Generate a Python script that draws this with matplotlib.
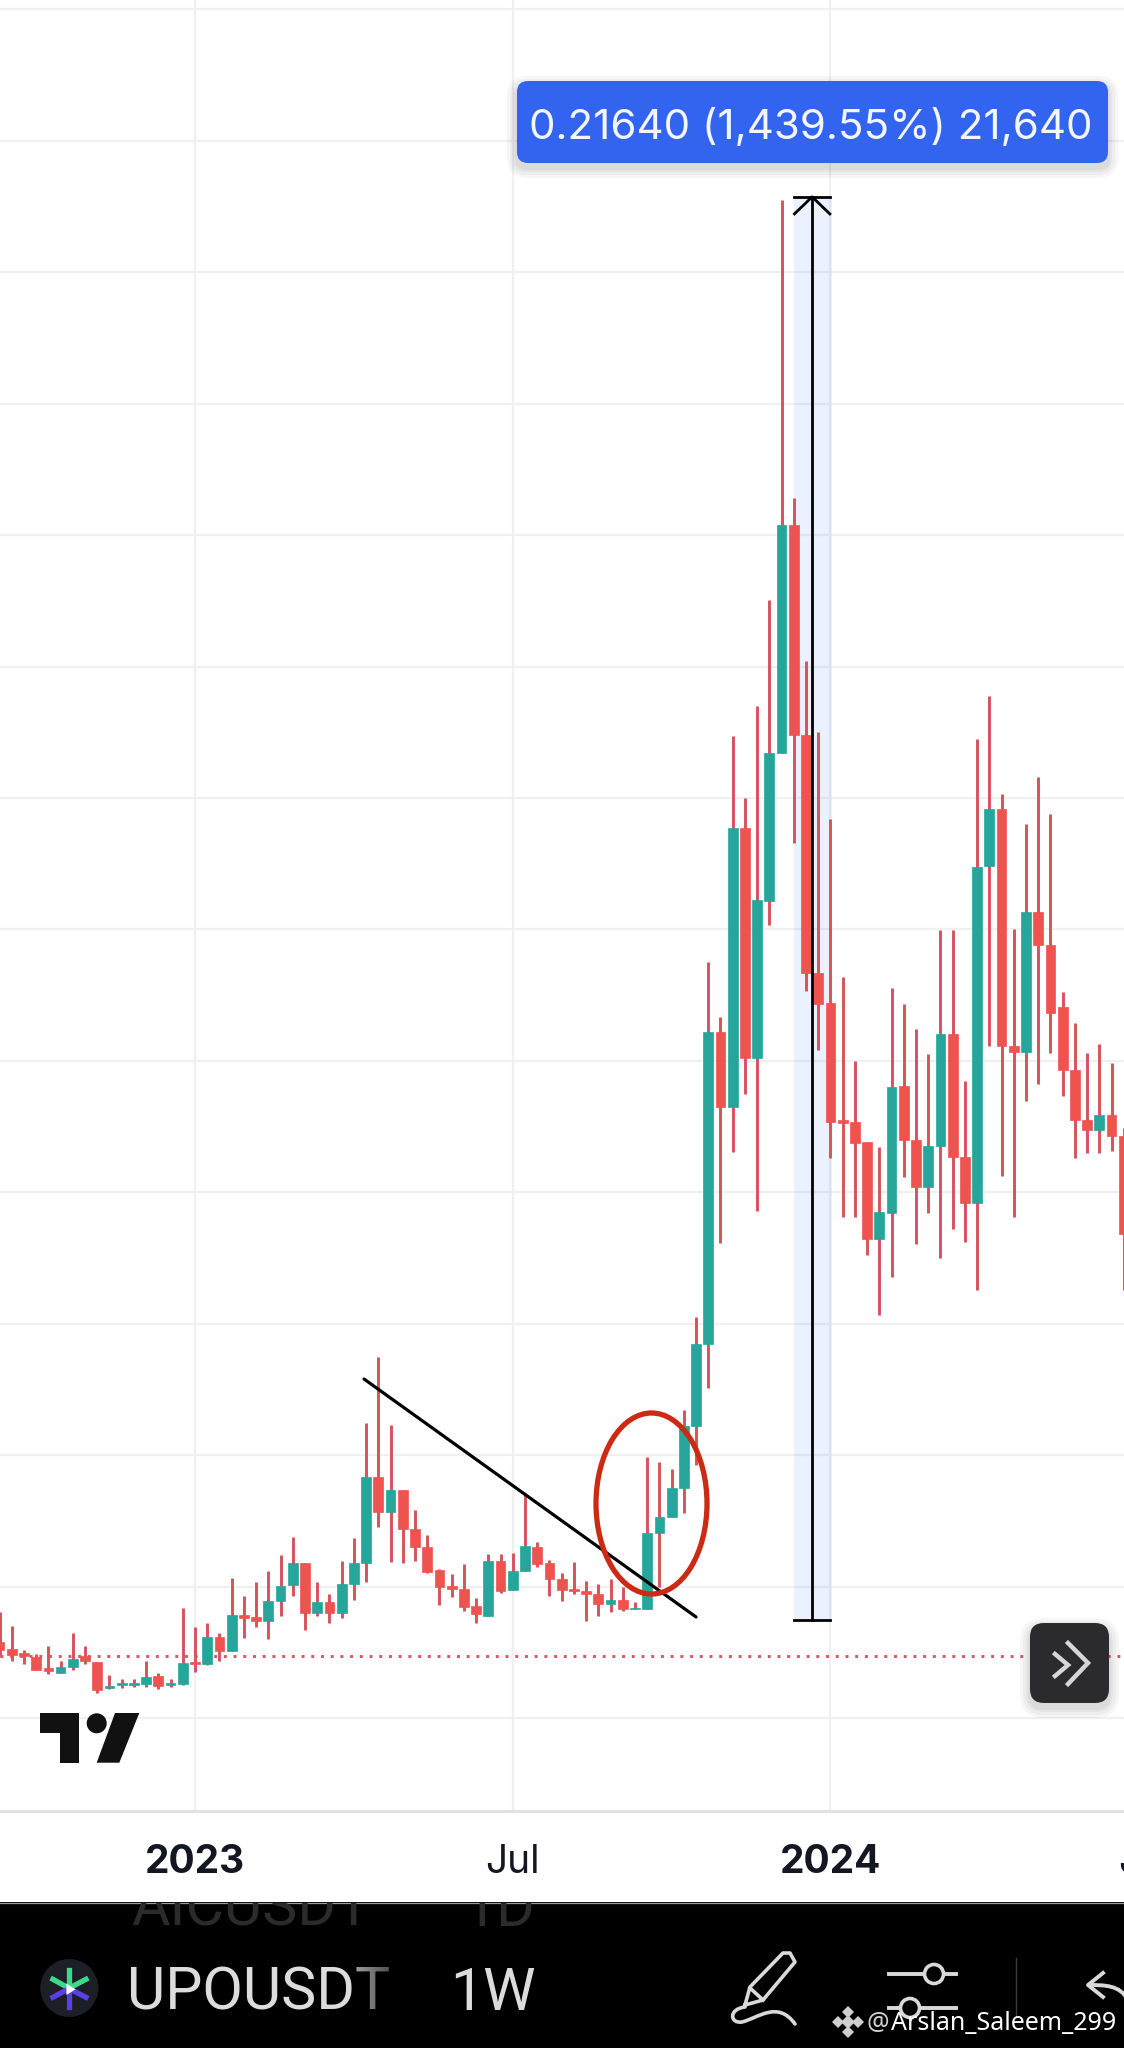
import numpy as np
import matplotlib
matplotlib.use('Agg')
import matplotlib.pyplot as plt
from matplotlib.patches import FancyBboxPatch, Ellipse, Circle, Polygon, Rectangle, PathPatch
from matplotlib.path import Path

# weekly candles, week number counted from the first week of 2023
weeks = list(range(-16, 77))

opens = [.01168, .01052, .01001, .00940, .00764, .00697, .00788, .00951, .00864, .00459, .00510, .00510,
         .00520, .00646, .00505, .00525, .00864, .00824, .01235, .01027, .01574, .01548, .01487, .01792,
         .02026, .02370, .01600, .01776, .01600, .02041, .02360, .03678, .03145, .03475, .02882, .02613,
         .02259, .02015, .01974, .01711, .01564, .02400, .01954, .02243, .02613, .02360, .02126, .01974,
         .01944, .01889, .01737, .01807, .01661, .01670, .02817, .03069, .03506, .04449, .05696, .10441,
         .09300, .13544, .10046, .12433, .14684, .18152, .14958, .11338, .10882, .09103, .09072, .08768,
         .07293, .07688, .09620, .08798, .08084, .08707, .10411, .08540, .07840, .12966, .13832, .10228,
         .10137, .12266, .11764, .10821, .09863, .09103, .08950, .09179, .08859]
highs = [.01624, .01407, .01042, .00976, .01103, .00879, .01305, .01103, .00864, .00662, .00596, .00596,
         .00879, .00697, .00596, .01676, .01387, .01457, .01296, .02141, .01863, .02081, .02248, .02482,
         .02756, .02370, .02081, .01894, .02400, .02741, .04499, .05494, .04468, .03475, .03171, .02786,
         .02274, .02198, .02350, .01828, .02502, .02502, .02522, .03434, .02689, .02411, .02208, .02380,
         .02096, .02046, .02117, .01995, .01767, .03982, .03897, .03799, .04687, .06106, .11506, .10669,
         .14943, .14000, .15399, .17011, .23095, .18563, .16084, .15004, .13680, .11277, .10000, .08768,
         .08692, .11110, .10867, .10487, .10106, .11992, .11992, .09696, .14897, .15551, .14061, .12007,
         .13604, .14319, .13757, .11049, .10578, .10122, .10259, .09969, .08981]
lows = [.00940, .00875, .00829, .00738, .00677, .00687, .00738, .00829, .00392, .00444, .00459, .00475,
        .00484, .00444, .00475, .00510, .00712, .00814, .00879, .01027, .01229, .01387, .01214, .01564,
        .01868, .01346, .01564, .01448, .01533, .01802, .02071, .02917, .02380, .02360, .02391, .02208,
        .01726, .01843, .01635, .01448, .01564, .01913, .01954, .02243, .02300, .01863, .01792, .01889,
        .01483, .01564, .01615, .01635, .01661, .01670, .02005, .03069, .03130, .03855, .05027, .07232,
        .08616, .09498, .07719, .12068, .14684, .13315, .11065, .10167, .08525, .07627, .07627, .07049,
        .06137, .06715, .08236, .07217, .07688, .07004, .07445, .07247, .06517, .10228, .08251, .07627,
        .09392, .09650, .10122, .09468, .08525, .08601, .08601, .08631, .06517]
closes = [.01042, .00961, .00951, .00738, .00727, .00779, .00900, .00879, .00433, .00499, .00545, .00545,
          .00627, .00494, .00545, .00849, .00829, .01235, .01027, .01574, .01533, .01487, .01792, .02015,
          .02370, .01600, .01776, .01600, .02046, .02370, .03678, .03145, .03475, .02882, .02613, .02233,
          .02005, .01974, .01700, .01585, .02400, .01944, .02248, .02624, .02350, .02117, .01954, .01944,
          .01889, .01737, .01807, .01661, .01685, .02826, .03069, .03506, .04449, .05696, .10441, .09300,
          .13544, .10046, .12449, .14684, .18152, .14958, .11338, .10867, .09072, .09057, .08753, .07293,
          .07703, .09605, .08798, .08084, .08707, .10411, .08540, .07840, .12950, .13832, .10228, .10137,
          .12266, .11764, .10730, .09863, .09103, .08950, .09179, .08859, .07369]

grid_prices = [0.00, 0.02, 0.04, 0.06, 0.08, 0.10, 0.12, 0.14, 0.16, 0.18, 0.20, 0.22, 0.24, 0.26]
grid_weeks = [0, 26, 52]
tick_weeks = [0, 26, 52, 77.8]
tick_labels = ['2023', 'Jul', '2024', 'Jul']
tick_weights = ['bold', 'normal', 'bold', 'normal']

last_price = 0.00951
trend_x = [13.83, 41.0]
trend_y = [0.05163, 0.01544]

# price range tool
range_weeks = [49, 52]
range_prices = [0.015032, 0.231432]
range_label = '0.21640 (1,439.55%) 21,640'

GREEN = '#26a69a'
RED = '#ef5350'
WICK = '#d6525c'
W, H = 1124, 2048
CHART_BOTTOM = 1811

fig = plt.figure(figsize=(W / 100, H / 100), dpi=100, facecolor='white')

# main chart, limits worked out from the gridlines of the picture
ax = fig.add_axes([0, 1 - CHART_BOTTOM / H, 1, CHART_BOTTOM / H])
ax.set_xlim(-15.96, 76.02)
ax.set_ylim(-0.01407, 0.26137)
for s in ax.spines.values():
    s.set_visible(False)
ax.spines['bottom'].set_visible(True)
ax.spines['bottom'].set_color('#e2e2e4')
ax.spines['bottom'].set_linewidth(2.2)

ax.set_yticks(grid_prices)
ax.set_xticks(grid_weeks)
ax.tick_params(length=0, labelleft=False, labelbottom=False)
ax.grid(True, color='#f0f0f3', linewidth=1.6, zorder=0)
ax.set_axisbelow(True)

# ruler background, its blue edge runs a little past the last bar
ax.add_patch(Rectangle((range_weeks[0], range_prices[0]), range_weeks[1] - range_weeks[0] + 0.15,
                       range_prices[1] - range_prices[0], facecolor='#2962ff', alpha=0.085,
                       edgecolor='none', zorder=1))

ax.axhline(last_price, color='#dd5560', linewidth=2.1, linestyle=(0, (1, 2.33)), zorder=1.5)

# candles
weeks_arr = np.array(weeks)
o = np.array(opens)
c = np.array(closes)
colors = [GREEN if close >= op else RED for op, close in zip(o, c)]
ax.vlines(weeks_arr, lows, highs, color=WICK, linewidth=2.1, zorder=2)
ax.bar(weeks_arr, c - o, bottom=o, width=0.8, color=colors, edgecolor=colors, linewidth=0.5, zorder=3)

# drawings on top of the candles
ax.plot(trend_x, trend_y, color='black', linewidth=2.3, solid_capstyle='round', zorder=4)
mid = (range_weeks[0] + range_weeks[1]) / 2
ax.plot([mid, mid], range_prices, color='black', linewidth=2.0, zorder=4)
ax.plot(range_weeks, [range_prices[0]] * 2, color='black', linewidth=2.0, zorder=4)
ax.plot(range_weeks, [range_prices[1]] * 2, color='black', linewidth=2.0, zorder=4)
ax.plot([mid - 1.45, mid, mid + 1.45], [range_prices[1] - 0.0026, range_prices[1], range_prices[1] - 0.0026],
        color='black', linewidth=2.0, zorder=4)

# time axis labels
for t, label, weight in zip(tick_weeks, tick_labels, tick_weights):
    ax.annotate(label, xy=(t, 0), xycoords=ax.get_xaxis_transform(), xytext=(0, -37),
                textcoords='offset points', ha='center', va='center', annotation_clip=False,
                fontsize=28, fontweight=weight, family='Inter', color='#131722')

# everything else is app chrome, drawn in picture pixels
ui = fig.add_axes([0, 0, 1, 1], facecolor='none')
ui.set_xlim(0, W)
ui.set_ylim(H, 0)
ui.axis('off')


def soft_shadow(x, y, w, h, r, dy=5, strength=0.035):
    for grow in [10, 7, 4, 2]:
        ui.add_patch(FancyBboxPatch((x - grow, y - grow + dy), w + 2 * grow, h + 2 * grow,
                                    boxstyle=f'round,pad=0,rounding_size={r + grow}',
                                    facecolor='black', edgecolor='none', alpha=strength))


# blue label above the ruler
soft_shadow(517, 81, 591, 82, 10)
ui.add_patch(FancyBboxPatch((517, 81), 591, 82, boxstyle='round,pad=0,rounding_size=11',
                            facecolor='#3264f0', edgecolor='none'))
ui.text(811, 127, range_label, color='#f4f6ff', ha='center', va='center', fontsize=30.3, family='Inter')

# red circle around the breakout
ui.add_patch(Ellipse((651.5, 1503.5), 111, 181, facecolor='none', edgecolor='#cb2a14', linewidth=3.8))

# scroll button
soft_shadow(1030, 1623, 79, 80, 14)
ui.add_patch(FancyBboxPatch((1030, 1623), 79, 80, boxstyle='round,pad=0,rounding_size=14',
                            facecolor='#2b2b2d', edgecolor='none'))
ui.plot([1068, 1088, 1068], [1643, 1663, 1684], color='#d6d6d6', linewidth=3.2, solid_joinstyle='miter')
ui.plot([1055, 1068, 1055], [1654, 1665, 1676], color='#d6d6d6', linewidth=3.2, solid_joinstyle='miter')

# tradingview logo
LOGO = '#111111'
ui.add_patch(Polygon([(40, 1713), (79.3, 1713), (79.3, 1762.7), (60, 1762.7), (60, 1733.3), (40, 1733.3)],
                     facecolor=LOGO, edgecolor='none'))
ui.add_patch(Circle((96.7, 1723.3), 10, facecolor=LOGO, edgecolor='none'))
ui.add_patch(Polygon([(115, 1713), (139.3, 1713), (119.3, 1762.7), (96.7, 1762.7)],
                     facecolor=LOGO, edgecolor='none'))

# bottom black bar
ui.add_patch(Rectangle((0, 1902), W, H - 1902, facecolor='black', edgecolor='none', zorder=1))
ui.plot([0, W], [1902.5, 1902.5], color='#9a9a9a', linewidth=0.9, zorder=1.1)
clip_bar = Rectangle((0, 1903), W, H - 1903, transform=ui.transData)

# the row scrolled away behind the bar
t1 = ui.text(131, 1926, 'AICUSDT', color='#2b2b2b', fontsize=42.5, family='Roboto', va='baseline', zorder=2)
t2 = ui.text(463, 1926, '1D', color='#2b2b2b', fontsize=42.5, family='Roboto', va='baseline', zorder=2)
for t in [t1, t2]:
    t.set_clip_on(True)
    t.set_clip_path(clip_bar)

ui.text(127, 2010, 'UPOUSDT', color='#dcdcdc', fontsize=42.5, family='Roboto', va='baseline', zorder=2)
ui.text(450, 2010, '1W', color='#dcdcdc', fontsize=42.5, family='Roboto', va='baseline', zorder=2)

# fade of the last letter of the symbol
fade = np.zeros((1, 40, 4))
fade[0, :, 3] = np.linspace(0.3, 0.7, 40)
ui.imshow(fade, extent=(356, 396, 2015, 1962), aspect='auto', zorder=2.5)
ui.set_xlim(0, W)
ui.set_ylim(H, 0)

# coin icon
ui.add_patch(Circle((69.3, 1988), 29, facecolor='#1c1f26', edgecolor='none', zorder=2))
for x0, y0, x1, y1 in [(69.3, 1970, 69.3, 1987), (52.9, 1979.3, 66.4, 1986.7), (86, 1979.3, 71.8, 1986.7)]:
    ui.plot([x0, x1], [y0, y1], color='#3bd98b', linewidth=3.8, zorder=3)
for x0, y0, x1, y1 in [(69.3, 1990, 69.3, 2006.7), (52.9, 1997.3, 66.4, 1990), (86, 1997.3, 71.8, 1990)]:
    ui.plot([x0, x1], [y0, y1], color='#5a3fe8', linewidth=3.8, zorder=3)
ui.add_patch(Polygon([(66.4, 1983.5), (66.4, 1995), (75.6, 1989.3)], facecolor='white', edgecolor='none', zorder=4))

# pen icon
ICON = '#d9d9d9'
ui.plot([745, 750, 783, 790, 795, 763, 745], [2005, 1987, 1953, 1953, 1962, 2000, 2005], color=ICON,
        linewidth=2.6, solid_joinstyle='round', zorder=3)
ui.plot([750, 763], [1988, 2000], color=ICON, linewidth=2.6, zorder=3)
pen_path = Path([(745, 2007), (728, 2009), (730, 2024), (742, 2022), (758, 2018), (778, 2000), (795, 2024)],
                [Path.MOVETO, Path.CURVE4, Path.CURVE4, Path.CURVE4, Path.CURVE4, Path.CURVE4, Path.CURVE4])
ui.add_patch(PathPatch(pen_path, facecolor='none', edgecolor=ICON, linewidth=2.6, capstyle='round', zorder=3))

# settings sliders
for y, cx in [(1974, 934), (2008, 910)]:
    ui.plot([889, 956], [y, y], color=ICON, linewidth=2.8, zorder=3)
    ui.add_patch(Circle((cx, y), 9.5, facecolor='black', edgecolor=ICON, linewidth=2.6, zorder=3.5))
ui.plot([1016, 1016], [1958, 2017], color='#3a3a3a', linewidth=1, zorder=3)

# undo arrow, cut by the picture edge
ui.plot([1103, 1088, 1103], [1973, 1985, 1997], color=ICON, linewidth=2.8, zorder=3)
undo_path = Path([(1088, 1985), (1105, 1985), (1120, 1985), (1128, 2000)],
                 [Path.MOVETO, Path.CURVE4, Path.CURVE4, Path.CURVE4])
ui.add_patch(PathPatch(undo_path, facecolor='none', edgecolor=ICON, linewidth=2.8, zorder=3))

# watermark
for dx, dy, size in [(0, 0, 7), (-10, 0, 6), (10, 0, 6), (0, -10, 6), (0, 10, 6)]:
    ui.plot(848 + dx, 2022 + dy, marker='D', markersize=size, color='#cfcfcf', markeredgewidth=0, zorder=5)
ui.text(867, 2030, '@', color='#cfcfcf', fontsize=18, family='Noto Sans', va='baseline', zorder=5)
ui.text(891, 2030, 'Arslan_Saleem_299', color='white', fontsize=18, family='Noto Sans', va='baseline', zorder=5)

plt.savefig('out.png', dpi=100)
